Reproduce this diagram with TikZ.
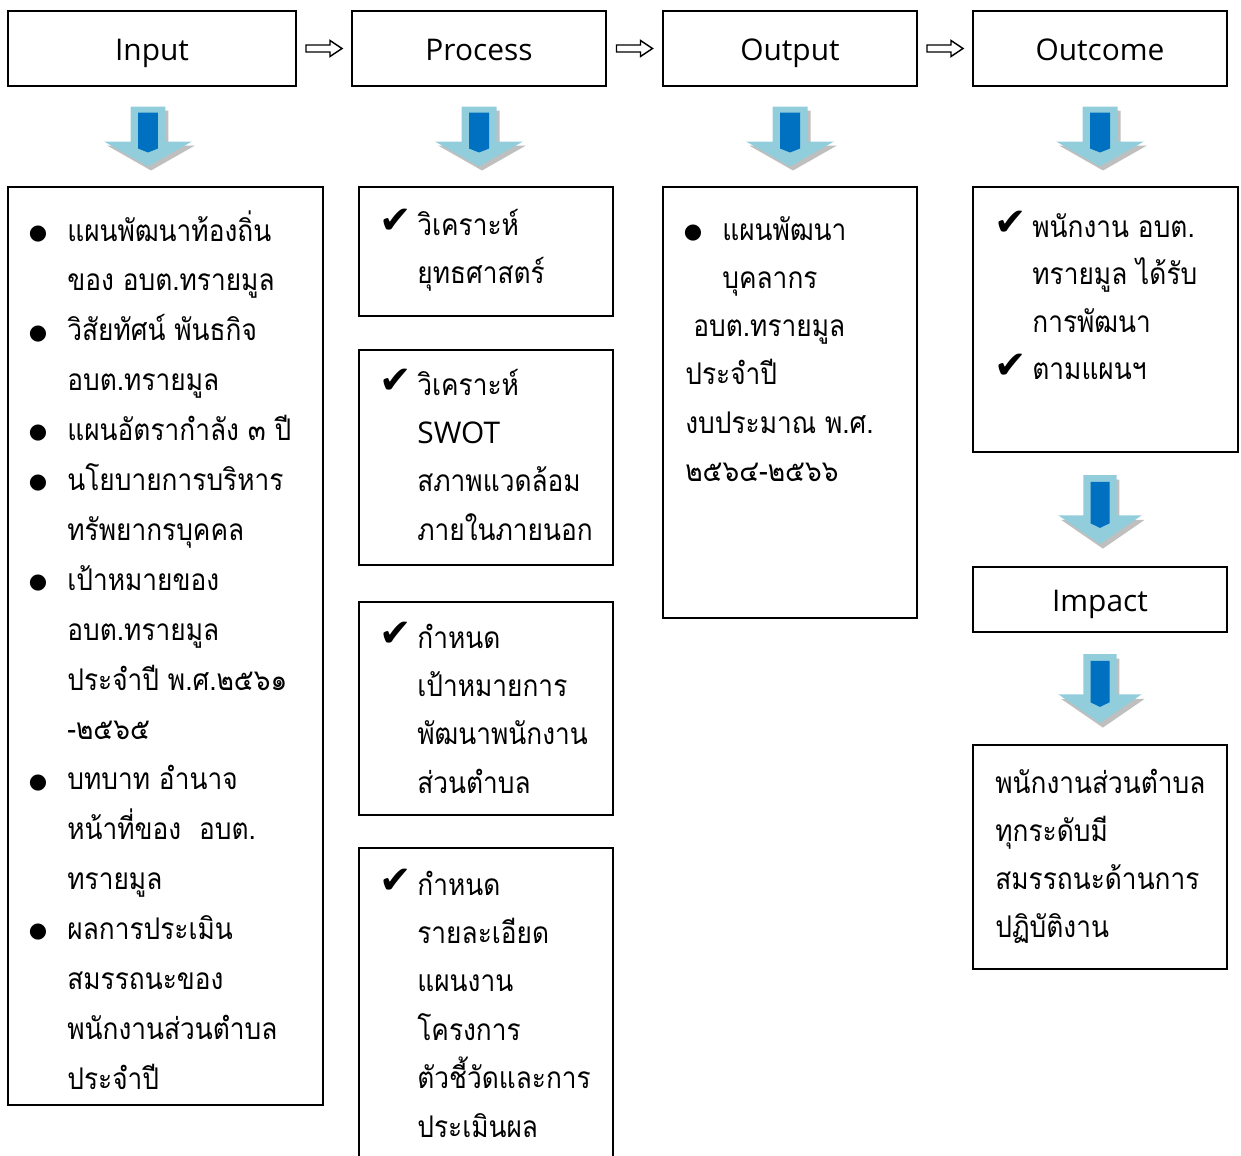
\documentclass[tikz,border=0pt]{standalone}
\usepackage{fontspec}
\newfontfamily\thaifont[Script=Thai, FakeStretch=0.88]{Loma}
\newfontfamily\latinfont{Open Sans}
\newfontfamily\symfont{DejaVu Sans}
\usepackage{tikz}
\usetikzlibrary{calc,fit,positioning}

\definecolor{arrlight}{HTML}{92CDDC}
\definecolor{arrdark}{HTML}{0070C0}
\definecolor{arrshade}{HTML}{BFBFBF}

\newcommand{\bul}{\llap{{\symfont\fontsize{12}{12}\selectfont\raisebox{1pt}{●}}\hspace{0.4cm}}}
\newcommand{\chk}{\llap{{\symfont\fontsize{22}{22}\selectfont\raisebox{1pt}{✔}}\hspace{0.1cm}}}
\newcommand{\rows}[1]{\begin{tabular}[t]{@{}l@{}}#1\end{tabular}}

\begin{document}
\begin{tikzpicture}[x=0.02cm, y=-0.02cm,
    box/.style={draw, line width=0.9pt, inner sep=0pt},
    headtxt/.style={anchor=base, inner sep=0pt, font=\latinfont\fontsize{17}{20}\selectfont},
    body/.style={anchor=base west, inner sep=0pt, font=\thaifont\fontsize{17}{27.6}\selectfont},
    blockarr/.pic={
        \fill[arrshade, shift={(0.06cm,-0.08cm)}] (-0.35cm,0.6cm) -- (0.35cm,0.6cm) -- (0.35cm,-0.1cm)
            -- (0.88cm,-0.1cm) -- (0cm,-0.6cm) -- (-0.88cm,-0.1cm) -- (-0.35cm,-0.1cm) -- cycle;
        \fill[arrlight] (-0.35cm,0.6cm) -- (0.35cm,0.6cm) -- (0.35cm,-0.1cm) -- (0.88cm,-0.1cm)
            -- (0cm,-0.6cm) -- (-0.88cm,-0.1cm) -- (-0.35cm,-0.1cm) -- cycle;
        \fill[arrdark] (-0.2cm,0.48cm) -- (0.2cm,0.48cm) -- (0.2cm,-0.24cm) -- (0cm,-0.32cm)
            -- (-0.2cm,-0.24cm) -- cycle;
    },
    nextarr/.pic={
        \draw[line width=0.8pt, line join=miter] (-0.36cm,0.07cm) -- (0.12cm,0.07cm) -- (0.12cm,0.16cm)
            -- (0.36cm,0cm) -- (0.12cm,-0.16cm) -- (0.12cm,-0.07cm) -- (-0.36cm,-0.07cm) -- cycle;
    }
    ]
\useasboundingbox (0,0) rectangle (1241,1156);
% \draw[help lines, step=100] (0,0) grid (1241,1156);

% top row
\node[box, fit={(8,11) (296,86)}]     (input)   {};
\node[box, fit={(352,11) (606,86)}]   (process) {};
\node[box, fit={(663,11) (917,86)}]   (output)  {};
\node[box, fit={(973,11) (1227,86)}]  (outcome) {};
\node[headtxt] (inputlbl)   at ($(input.center)+(0,11.5)$)   {Input};
\node[headtxt] (processlbl) at ($(process.center)+(0,11.5)$) {Process};
\node[headtxt] (outputlbl)  at ($(output.center)+(0,11.5)$)  {Output};
\node[headtxt] (outcomelbl) at ($(outcome.center)+(0,11.5)$) {Outcome};

\pic at ($(input.east)!.5!(process.west)$)   {nextarr};
\pic at ($(process.east)!.5!(output.west)$)  {nextarr};
\pic at ($(output.east)!.5!(outcome.west)$)  {nextarr};

% boxes below
\node[box, fit={(8,187) (323,1105)}]    (inlist) {};
\node[box, fit={(359,187) (613,316)}]   (proc1) {};
\node[box, fit={(359,350) (613,565)}]   (proc2) {};
\node[box, fit={(359,602) (613,815)}]   (proc3) {};
\node[box, fit={(359,848) (613,1175)}]  (proc4) {};
\node[box, fit={(663,187) (917,618)}]   (outlist) {};
\node[box, fit={(973,187) (1238,452)}]  (outbox) {};
\node[box, fit={(973,567) (1227,632)}]  (impact) {};
\node[headtxt] (impactlbl) at ($(impact.center)+(0,11.5)$) {Impact};
\node[box, fit={(973,745) (1227,969)}]  (result) {};

\pic at ($(input.south)!.5!(input.south |- inlist.north)+(-4,0)$) {blockarr};
\pic at ($(process.south)!.5!(process.south |- proc1.north)$)    {blockarr};
\pic at ($(output.south)!.5!(output.south |- outlist.north)$)    {blockarr};
\pic at ($(outcome.south)!.5!(outcome.south |- outbox.north)$)   {blockarr};
\pic[yscale=1.15, xscale=0.95] at ($(impact.north)!.5!(impact.north |- outbox.south)$) {blockarr};
\pic[yscale=1.15, xscale=0.95] at ($(impact.south)!.5!(impact.south |- result.north)$) {blockarr};

% texts, placed at the first baseline
\node[body, font=\thaifont\fontsize{17}{28.4}\selectfont] (intext) at (67,241)
    {\rows{\bul แผนพัฒนาท้องถิ่น\\ ของ อบต.ทรายมูล\\ \bul วิสัยทัศน์ พันธกิจ\\ อบต.ทรายมูล\\
     \bul แผนอัตรากำลัง ๓ ปี\\ \bul นโยบายการบริหาร\\ ทรัพยากรบุคคล\\
     \bul เป้าหมายของ\\ อบต.ทรายมูล\\ ประจำปี พ.ศ.๒๕๖๑\\ -๒๕๖๕\\
     \bul บทบาท อำนาจ\\ หน้าที่ของ\ \ อบต.\\ ทรายมูล\\
     \bul ผลการประเมิน\\ สมรรถนะของ\\ พนักงานส่วนตำบล\\ ประจำปี}};
\node[body] (ptext1) at (417,235) {\rows{\chk วิเคราะห์\\ ยุทธศาสตร์}};
\node[body] (ptext2) at (417,395) {\rows{\chk วิเคราะห์\\ {\latinfont SWOT}\\ สภาพแวดล้อม\\ ภายในภายนอก}};
\node[body] (ptext3) at (417,648) {\rows{\chk กำหนด\\ เป้าหมายการ\\ พัฒนาพนักงาน\\ ส่วนตำบล}};
\node[body] (ptext4) at (417,895) {\rows{\chk กำหนด\\ รายละเอียด\\ แผนงาน\\ โครงการ\\ ตัวชี้วัดและการ\\ ประเมินผล}};
\node[body, font=\thaifont\fontsize{17}{27.5}\selectfont] (otext) at (685,240)
    {\rows{\hspace*{0.74cm}\bul แผนพัฒนา\\ \hspace*{0.74cm}บุคลากร\\ \hspace*{0.16cm}อบต.ทรายมูล\\
     ประจำปี\\ งบประมาณ พ.ศ.\\ ๒๕๖๔-๒๕๖๖}};
\node[body, font=\thaifont\fontsize{17}{27.1}\selectfont] (octext) at (1032,237)
    {\rows{\chk พนักงาน อบต.\\ ทรายมูล ได้รับ\\ การพัฒนา\\ \chk ตามแผนฯ}};
\node[body, font=\thaifont\fontsize{17}{27.4}\selectfont] (rtext) at (995,793)
    {\rows{พนักงานส่วนตำบล\\ ทุกระดับมี\\ สมรรถนะด้านการ\\ ปฏิบัติงาน}};
\end{tikzpicture}
\end{document}
